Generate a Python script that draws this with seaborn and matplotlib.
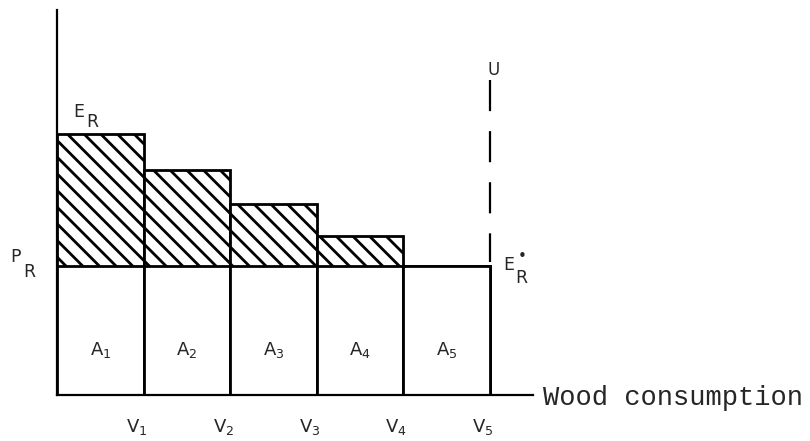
import matplotlib
matplotlib.use("Agg")
import matplotlib.pyplot as plt
import seaborn as sns

# Step diagram: marginal value of wood per tranche vs. price P_R
tranches = ["A1", "A2", "A3", "A4", "A5"]
area_labels = [r"A$_1$", r"A$_2$", r"A$_3$", r"A$_4$", r"A$_5$"]
v_labels = [r"V$_1$", r"V$_2$", r"V$_3$", r"V$_4$", r"V$_5$"]
value_E = [2.02, 1.74, 1.48, 1.23, 1.00]   # E_R step heights
price_P = [1.00, 1.00, 1.00, 1.00, 1.00]   # P_R level
u_line = [2.44, 1.03]                       # dashed U line extent (top -> bottom)

sns.set_style("white")
plt.rcParams["font.family"] = ["DejaVu Sans"]
plt.rcParams["mathtext.default"] = "regular"
plt.rcParams["hatch.linewidth"] = 2.0
plt.rcParams["hatch.color"] = "black"

fig = plt.figure(figsize=(8.1, 4.41), dpi=100)
ax = fig.add_axes([57 / 810, 46 / 441, 476 / 810, 385 / 441])

sns.barplot(x=tranches, y=value_E, width=1, color="white", saturation=1,
            edgecolor="black", linewidth=2, hatch="\\\\", ax=ax)
sns.barplot(x=tranches, y=price_P, width=1, color="white", saturation=1,
            edgecolor="black", linewidth=2, ax=ax)

ax.set_xlim(-0.5, 5.0)
ax.set_ylim(0, 2.98)
ax.set_xticks([])
ax.set_yticks([])
ax.set_xlabel("")
ax.set_ylabel("")
sns.despine(ax=ax)
for side in ["left", "bottom"]:
    ax.spines[side].set_linewidth(1.6)
    ax.spines[side].set_color("black")

# dashed U line at the right edge of the last tranche
ax.plot([4.5, 4.5], u_line, color="black", lw=1.6, linestyle=(0, (14, 9)))
ax.text(4.54, 2.48, "U", fontsize=12, ha="center", va="baseline")

# labels inside the white blocks
for i, lab in enumerate(area_labels):
    ax.text(i, 0.35, lab, fontsize=13, ha="center", va="center")

# V labels below the boundaries
for i, lab in enumerate(v_labels):
    ax.text(i + 0.5 - 0.08, -0.17, lab, fontsize=13, ha="center", va="top",
            clip_on=False)

# E_R, P_R and E_R* with large, dropped subscripts as in the drawing
lbl = dict(fontsize=12.5, ha="left", va="baseline", clip_on=False)
ax.text(-0.315, 2.155, "E", **lbl)
ax.text(-0.165, 2.078, "R", **lbl)
ax.text(-1.043, 1.031, "P", **lbl)
ax.text(-0.893, 0.915, "R", **lbl)
ax.text(4.653, 0.969, "E", **lbl)
ax.text(4.80, 0.868, "R", **lbl)
ax.text(4.88, 1.075, "•", fontsize=11, ha="center", va="center", clip_on=False)

ax.text(5.11, -0.02, "Wood consumption", fontsize=19.5, family="Liberation Mono",
        ha="left", va="center", clip_on=False)

plt.savefig("out.png", dpi=100)
plt.close()
